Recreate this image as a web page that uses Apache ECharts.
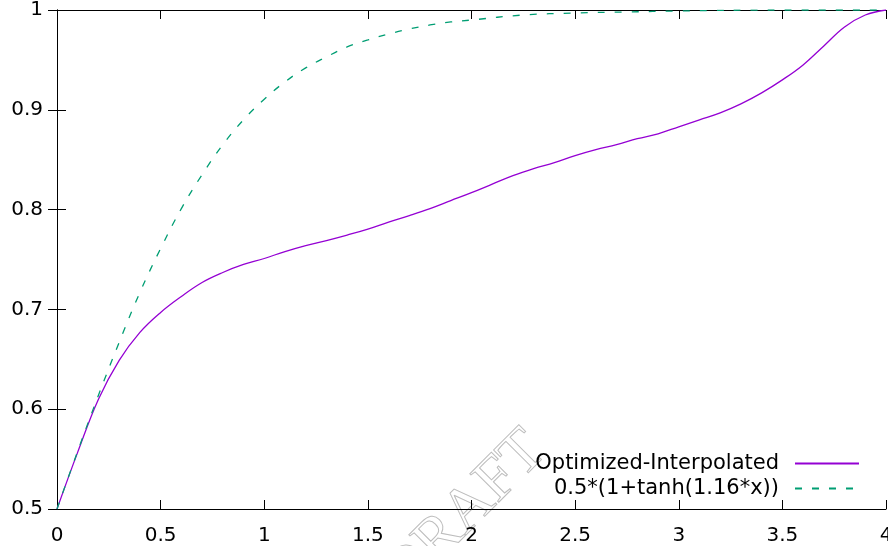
<!DOCTYPE html>
<html>
<head>
<meta charset="utf-8">
<script src="https://cdn.jsdelivr.net/npm/echarts@6/dist/echarts.min.js"></script>
<style>
html,body{margin:0;padding:0;background:#fff;}
#chart{width:888px;height:546px;}
</style>
</head>
<body>
<div id="chart"></div>
<script>
// Series names
const seriesNames = ['Optimized-Interpolated', '0.5*(1+tanh(1.16*x))'];

// Optimized-Interpolated
const xOpt = [0,0.1,0.2,0.3,0.4,0.5,0.6,0.7,0.8,0.9,1.0,1.1,1.2,1.3,1.4,1.5,1.6,1.7,1.8,1.9,2.0,2.1,2.2,2.3,2.4,2.5,2.6,2.7,2.8,2.9,3.0,3.1,3.2,3.3,3.4,3.5,3.6,3.7,3.8,3.9,4.0];
const yOpt = [0.500,0.557,0.610,0.649,0.677,0.697,0.713,0.727,0.737,0.745,0.751,0.758,0.764,0.769,0.7745,0.7805,0.7875,0.794,0.801,0.809,0.817,0.8255,0.834,0.841,0.847,0.854,0.860,0.865,0.871,0.876,0.883,0.890,0.897,0.906,0.917,0.930,0.945,0.964,0.983,0.995,1.000];

// 0.5*(1+tanh(1.16*x))
const xTanh = [0,0.1,0.2,0.3,0.4,0.5,0.6,0.7,0.8,0.9,1.0,1.1,1.2,1.3,1.4,1.5,1.6,1.7,1.8,1.9,2.0,2.25,2.5,2.75,3.0,3.5,4.0];
const yTanh = [0.500,0.558,0.614,0.667,0.717,0.761,0.801,0.835,0.865,0.890,0.9105,0.928,0.942,0.953,0.963,0.970,0.976,0.981,0.985,0.988,0.990,0.995,0.997,0.998,0.999,1.000,1.000];

// Axis ranges / ticks
const xMin = 0, xMax = 4, xStep = 0.5;
const yMin = 0.5, yMax = 1, yStep = 0.1;

const FONT = '"DejaVu Sans", sans-serif';
const chart = echarts.init(document.getElementById('chart'), null, {renderer: 'canvas'});

function pairs(xs, ys){ return xs.map((x,i)=>[x, ys[i]]); }

const axisCommon = {
  axisLine: {show: true, lineStyle: {color: '#000', width: 1}},
  axisTick: {show: true, inside: true, length: 9, lineStyle: {color: '#000', width: 1}},
  splitLine: {show: false}
};

const legendCommon = {
  orient: 'horizontal',
  align: 'right',
  right: 28,
  padding: 0,
  itemWidth: 64,
  itemHeight: 16,
  itemStyle: {opacity: 0},
  textStyle: {fontSize: 21, fontFamily: FONT, color: '#000', padding: [0, 11, 0, 0]},
  selectedMode: false
};

chart.setOption({
  backgroundColor: '#fff',
  animation: false,
  grid: {left: 57, right: 2, top: 10, bottom: 37, containLabel: false, outerBoundsMode: 'none'},
  legend: [
    Object.assign({}, legendCommon, {top: 453, data: [seriesNames[0]]}),
    Object.assign({}, legendCommon, {top: 478, data: [seriesNames[1]]})
  ],
  xAxis: [
    Object.assign({}, axisCommon, {
      type: 'value', position: 'bottom', min: xMin, max: xMax, interval: xStep,
      axisLabel: {fontSize: 20, fontFamily: FONT, color: '#000', margin: 17, hideOverlap: false}
    }),
    Object.assign({}, axisCommon, {
      type: 'value', position: 'top', min: xMin, max: xMax, interval: xStep,
      axisLabel: {show: false}
    })
  ],
  yAxis: [
    Object.assign({}, axisCommon, {
      type: 'value', position: 'left', min: yMin, max: yMax, interval: yStep,
      axisLabel: {fontSize: 20, fontFamily: FONT, color: '#000', margin: 14}
    }),
    Object.assign({}, axisCommon, {
      type: 'value', position: 'right', min: yMin, max: yMax, interval: yStep,
      axisLabel: {show: false}
    })
  ],
  graphic: [{
    type: 'text',
    x: 465, y: 513,
    rotation: Math.PI / 4,
    z: -1,
    silent: true,
    style: {
      text: 'DRAFT',
      font: '62px "Liberation Serif", "DejaVu Serif", serif',
      fill: 'rgba(0,0,0,0)',
      stroke: '#bdbdbd',
      lineWidth: 1,
      align: 'center',
      verticalAlign: 'middle'
    }
  }],
  series: [
    {
      name: seriesNames[0], type: 'line', data: pairs(xOpt, yOpt),
      showSymbol: false, symbol: 'none', smooth: 0.4,
      lineStyle: {color: '#9400d3', width: 1.3},
      itemStyle: {color: '#9400d3'}
    },
    {
      name: seriesNames[1], type: 'line', data: pairs(xTanh, yTanh),
      showSymbol: false, symbol: 'none', smooth: 0.4,
      lineStyle: {color: '#009e73', width: 1.3, type: [7, 10]},
      itemStyle: {color: '#009e73'}
    }
  ]
});
</script>
</body>
</html>
